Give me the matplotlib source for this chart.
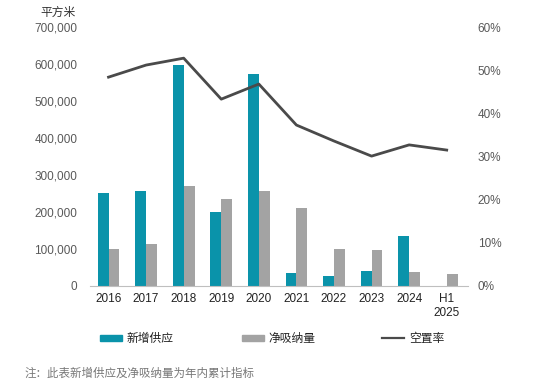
import matplotlib
matplotlib.use("Agg")
import matplotlib.pyplot as plt
from matplotlib.patches import Patch
from matplotlib.lines import Line2D
from matplotlib.ticker import FuncFormatter

plt.rcParams['font.family'] = ['Liberation Sans', 'Noto Sans CJK SC']

# data
years = ['2016', '2017', '2018', '2019', '2020', '2021', '2022', '2023', '2024', 'H1\n2025']
new_supply = [251000, 257000, 597000, 200000, 573000, 35000, 27000, 40000, 135000, 0]
net_absorption = [100000, 113000, 270000, 235000, 257000, 211000, 100000, 98000, 37000, 33000]
vacancy = [48.4, 51.2, 52.8, 43.3, 46.8, 37.3, 33.6, 30.1, 32.7, 31.5]

teal = '#0A93AA'
grey = '#A3A3A3'
dark = '#4A4A4A'
txt = '#595959'

fig = plt.figure(figsize=(5.54, 3.87), dpi=100)
ax = fig.add_axes([0.162, 0.261, 0.683, 0.669])
x = list(range(len(years)))
w = 0.29

ax.bar([i - w / 2 for i in x], new_supply, width=w, color=teal)
ax.bar([i + w / 2 for i in x], net_absorption, width=w, color=grey)
ax.set_ylim(0, 700000)
ax.set_xlim(-0.5, 9.57)
ax.set_yticks(range(0, 700001, 100000))
ax.yaxis.set_major_formatter(FuncFormatter(lambda v, p: f'{int(v):,}'))
ax.set_xticks(x)
ax.set_xticklabels(years)
ax.tick_params(axis='both', length=0, labelsize=8.5, colors='#222222')
ax.tick_params(axis='y', colors=txt, pad=9)
ax.tick_params(axis='x', pad=5)
for s in ['top', 'left', 'right']:
    ax.spines[s].set_visible(False)
ax.spines['bottom'].set_color('#BFBFBF')

ax2 = ax.twinx()
ax2.plot(x, vacancy, color=dark, lw=2)
ax2.set_ylim(0, 60)
ax2.set_yticks(range(0, 61, 10))
ax2.yaxis.set_major_formatter(FuncFormatter(lambda v, p: f'{int(v)}%'))
ax2.tick_params(axis='y', length=0, labelsize=8.5, colors=txt, pad=7)
for s in ['top', 'left', 'right', 'bottom']:
    ax2.spines[s].set_visible(False)

fig.text(0.072, 0.968, '平方米', fontsize=8.5, color='#333333', va='center')

# legend: three separate entries spread along the bottom
entries = [
    (Patch(color=teal), '新增供应', 100),
    (Patch(color=grey), '净吸纳量', 242),
    (Line2D([0], [0], color=dark, lw=1.6), '空置率', 382),
]
for h, lab, px in entries:
    leg = fig.legend([h], [lab], loc='center left', bbox_to_anchor=(px / 554, 1 - 339 / 387),
                     frameon=False, fontsize=8.5, handlelength=1.86, handleheight=0.45,
                     handletextpad=0.42, borderpad=0, borderaxespad=0)
    for t in leg.get_texts():
        t.set_color('#222222')

fig.text(0.045, 0.034, '注：此表新增供应及净吸纳量为年内累计指标', fontsize=8.3,
         color='#777777', va='center')

fig.savefig('out.png', dpi=100)
